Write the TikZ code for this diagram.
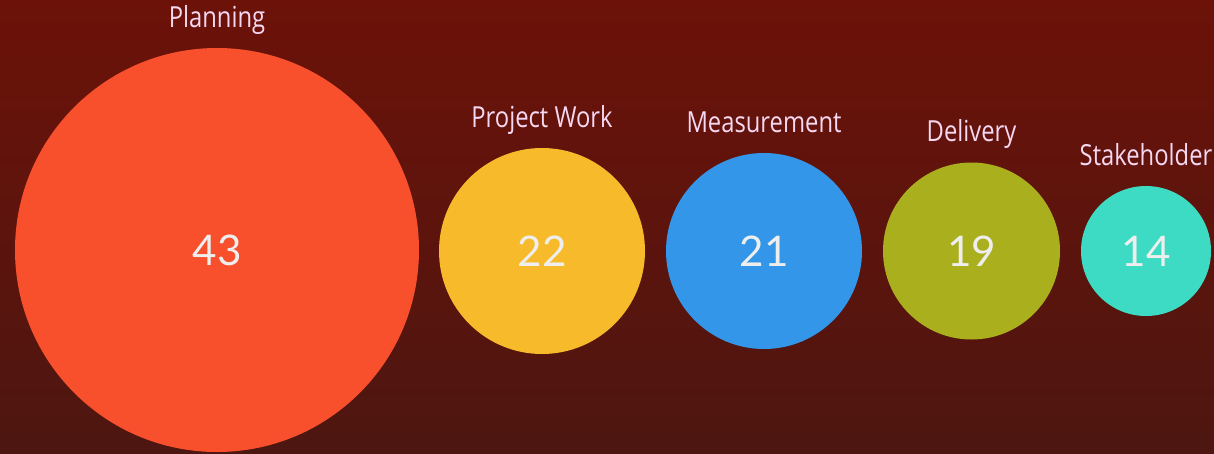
\documentclass[tikz,border=0pt]{standalone}
\usepackage{fontspec}
\usepackage{xcolor}
\usepackage{tikz}
\usetikzlibrary{positioning}
\newfontfamily\lblfont{Open Sans}[FakeStretch=0.82]
\newfontfamily\numfont{Lato}
\definecolor{bgtop}{HTML}{6C1209}
\definecolor{bgbot}{HTML}{4D1610}
\definecolor{cplan}{HTML}{F8502C}
\definecolor{cproj}{HTML}{F7BA2B}
\definecolor{cmeas}{HTML}{3396E8}
\definecolor{cdeliv}{HTML}{AAAF1E}
\definecolor{cstake}{HTML}{3DDBC3}
\definecolor{lbltext}{HTML}{F6D8F2}
\definecolor{numtext}{HTML}{EEEEEE}
\tikzset{
	bubble/.style={circle, draw=none, inner sep=0pt, minimum size=#1,
			text=numtext, font=\numfont\fontsize{24}{24}\selectfont},
	lbl/.style={text=lbltext, inner sep=0pt, text height=0.4cm, text depth=0.1cm,
			font=\lblfont\fontsize{16.5}{16.5}\selectfont}
}
\begin{document}
\begin{tikzpicture}
    \clip (0,0) rectangle (24.28,-9.06);
    \useasboundingbox (0,0) rectangle (24.28,-9.06);
    \shade[top color=bgtop, bottom color=bgbot] (0,0) rectangle (24.28,-9.06);

    % bubbles
    \node[bubble=8.08cm, fill=cplan]   (plan)   at (4.34,-5.0)   {43};
    \node[bubble=4.12cm, fill=cproj]   (proj)   at (10.84,-5.02) {22};
    \node[bubble=3.92cm, fill=cmeas]   (meas)   at (15.28,-5.02) {21};
    \node[bubble=3.54cm, fill=cdeliv]  (deliv)  at (19.43,-5.02) {19};
    \node[bubble=2.60cm, fill=cstake]  (stake)  at (22.92,-5.02) {14};

    % labels
    \node[lbl, above=0.3cm of plan.north]  (planlbl)  {Planning};
    \node[lbl, above=0.3cm of proj.north]  (projlbl)  {Project Work};
    \node[lbl, above=0.3cm of meas.north]  (measlbl)  {Measurement};
    \node[lbl, above=0.3cm of deliv.north] (delivlbl) {Delivery};
    \node[lbl, above=0.3cm of stake.north] (stakelbl) {Stakeholder};
\end{tikzpicture}
\end{document}
